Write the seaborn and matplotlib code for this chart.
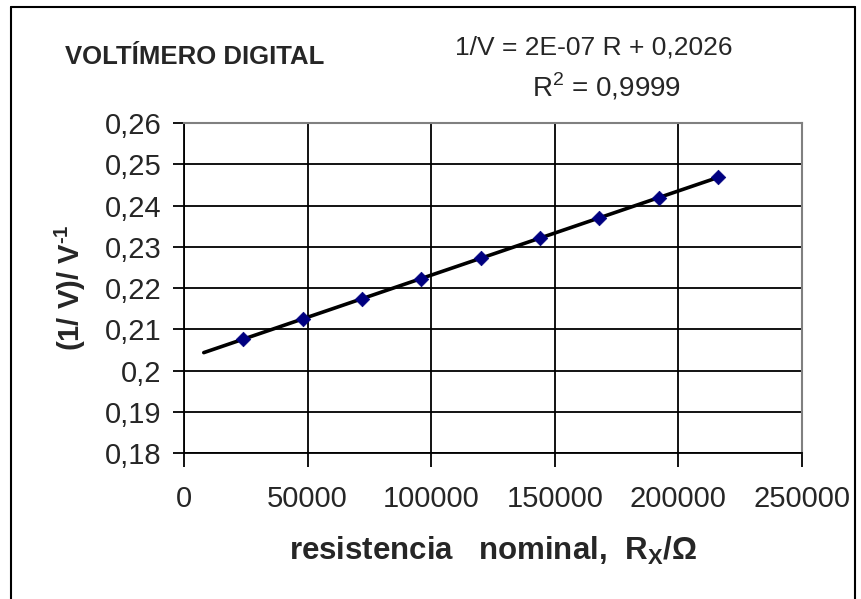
import numpy as np
import pandas as pd
import matplotlib
matplotlib.use("Agg")
import matplotlib.pyplot as plt
from matplotlib.ticker import FuncFormatter
from matplotlib.lines import Line2D
import seaborn as sns

# Data
resistencia = [24000, 48000, 72000, 96000, 120000, 144000, 168000, 192000, 216000]
inv_v = [0.2076, 0.2125, 0.2174, 0.2223, 0.2273, 0.2321, 0.2369, 0.2417, 0.2470]
trend_range = [8000, 216000]
x_ticks = [0, 50000, 100000, 150000, 200000, 250000]
y_ticks = [0.18, 0.19, 0.20, 0.21, 0.22, 0.23, 0.24, 0.25, 0.26]
title = "VOLTÍMERO DIGITAL"
eq_text = "1/V = 2E-07 R + 0,2026"
r2_text = "R$^2$ = 0,9999"

sns.set_style("white")
plt.rcParams['font.family'] = ['Liberation Sans', 'DejaVu Sans']
plt.rcParams['mathtext.fontset'] = 'custom'
plt.rcParams['mathtext.rm'] = 'Liberation Sans'
plt.rcParams['mathtext.bf'] = 'Liberation Sans:bold'

df = pd.DataFrame({"R": resistencia, "invV": inv_v})
slope, intercept = np.polyfit(resistencia, inv_v, 1)
tx = np.array(trend_range, dtype=float)
tdf = pd.DataFrame({"R": tx, "invV": slope * tx + intercept})

fig = plt.figure(figsize=(8.61, 5.99), dpi=100)
ax = fig.add_axes([184/861, 1-453/599, (802-184)/861, (453-123)/599])

ax.set_xlim(0, 250000)
ax.set_ylim(0.18, 0.26)
ax.set_xticks(x_ticks)
ax.set_yticks(y_ticks)
ax.grid(True, color="black", linewidth=1.3)
ax.set_axisbelow(True)

sns.lineplot(data=tdf, x="R", y="invV", ax=ax, color="black", linewidth=2.6, zorder=3)
sns.scatterplot(data=df, x="R", y="invV", ax=ax, marker="D", s=55, color="#000080",
                edgecolor="#000080", linewidth=0.5, zorder=4)

def yfmt(v, pos):
    s = f"{v:.2f}".rstrip("0")
    return s.replace(".", ",")
ax.yaxis.set_major_formatter(FuncFormatter(yfmt))
ax.xaxis.set_major_formatter(FuncFormatter(lambda v, p: f"{int(round(v))}"))

ax.tick_params(axis="y", which="major", direction="out", length=8, width=1.3,
               color="black", labelsize=21, pad=8, left=True)
ax.tick_params(axis="x", which="major", direction="out", length=10, width=1.3,
               color="black", labelsize=21, pad=13, bottom=True)

for side in ["left", "bottom"]:
    ax.spines[side].set_color("black")
    ax.spines[side].set_linewidth(1.3)
for side in ["top", "right"]:
    ax.spines[side].set_color("#808080")
    ax.spines[side].set_linewidth(1.5)

ax.set_xlabel(r"resistencia   nominal,  R$_\mathbf{X}$/Ω", fontsize=22.5,
              fontweight="bold", labelpad=16)
ax.set_ylabel(r"(1/ V)/ V$^{\mathbf{‐1}}$", fontsize=21, fontweight="bold", labelpad=12)

fig.text(65/861, 1-57/599, title, fontsize=18.5, fontweight="bold", ha="left", va="center")
fig.text(594/861, 1-47/599, eq_text, fontsize=19, ha="center", va="center")
fig.text(607/861, 1-87/599, r2_text, fontsize=20, ha="center", va="center")

# outer frame (left, top, right)
fx0, fy1, fx1 = 11/861, 1-7/599, 855/861
fig.add_artist(Line2D([fx0, fx0], [0, fy1], transform=fig.transFigure, color="black", lw=1.5))
fig.add_artist(Line2D([fx0, fx1], [fy1, fy1], transform=fig.transFigure, color="black", lw=1.5))
fig.add_artist(Line2D([fx1, fx1], [0, fy1], transform=fig.transFigure, color="black", lw=1.5))

fig.savefig("out.png", dpi=100, facecolor="white")
